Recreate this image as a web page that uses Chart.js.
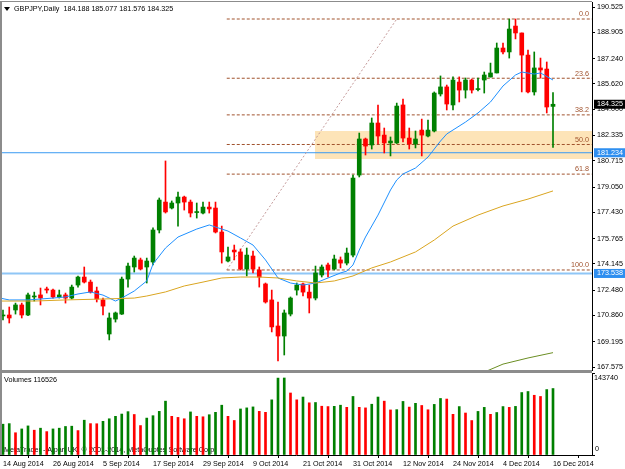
<!DOCTYPE html>
<html>
<head>
<meta charset="utf-8">
<script src="https://cdn.jsdelivr.net/npm/chart.js@4.4.0/dist/chart.umd.min.js"></script>
<style>
  html, body { margin: 0; padding: 0; background: #fff; }
  #wrap { position: relative; width: 625px; height: 469px; overflow: hidden; }
  #priceChart { position: absolute; left: 0; top: 0; }
  #volumeChart { position: absolute; left: 0; top: 372px; }
</style>
</head>
<body>
<div id="wrap">
  <canvas id="priceChart" width="625" height="372"></canvas>
  <canvas id="volumeChart" width="625" height="97"></canvas>
</div>
<script>
// Global font settings
const FONT_FAMILY = '"Liberation Sans", Arial, sans-serif';
const FONT_SIZE = 7.2;
Chart.defaults.font.family = FONT_FAMILY;
Chart.defaults.font.size = FONT_SIZE;
Chart.defaults.color = '#000';

const COLORS = {
    BULL: '#008000',
    BEAR: '#ff0000',
    MA_FAST: '#1e90ff',
    MA_MID: '#daa520',
    MA_SLOW: '#6b8e23',
    FIBO: '#a0522d',
    TREND: '#c49a9a',
    ZONE: '#fde4b8',
    TAG: '#2f8ff0',
    FRAME: '#8c8c8c'
};

// Daily GBPJPY candles, 14 Aug 2014 .. 16 Dec 2014
const SYMBOL = 'GBPJPY,Daily';
const opens = [
    170.83, 170.89, 171.21, 171.53, 170.89, 172.04, 172.17, 172.55, 172.48, 172.04,
    172.17, 171.97, 172.80, 173.31, 172.99, 172.42, 171.85, 169.68, 170.63, 170.95,
    173.18, 173.95, 174.40, 173.95, 174.27, 176.31, 178.09, 177.71, 178.03, 178.41,
    178.09, 177.42, 177.39, 177.77, 177.71, 176.18, 174.33, 175.03, 174.91, 173.82,
    174.65, 173.76, 172.87, 171.85, 170.19, 169.55, 170.95, 172.48, 172.87, 172.35,
    171.97, 173.44, 174.08, 173.82, 174.40, 174.20, 174.71, 179.81, 182.11, 181.73,
    183.13, 182.36, 181.86, 181.86, 184.28, 182.17, 181.79, 182.68, 182.30, 182.62,
    184.98, 185.43, 184.28, 185.74, 185.23, 185.87, 185.26, 185.87, 186.06, 186.32,
    187.91, 187.66, 189.31, 188.87, 187.46, 185.11, 186.64, 186.57, 184.188
];
const highs = [
    171.21, 171.40, 171.65, 171.65, 172.29, 172.35, 172.61, 172.67, 172.55, 172.48,
    172.29, 172.80, 173.37, 173.95, 173.12, 172.67, 171.97, 171.02, 171.08, 173.31,
    174.20, 174.65, 174.52, 174.52, 176.44, 178.35, 180.71, 178.16, 178.73, 178.47,
    178.22, 178.03, 178.09, 178.09, 178.09, 176.56, 175.22, 175.35, 175.10, 175.16,
    174.97, 173.95, 172.93, 172.48, 171.72, 171.21, 172.04, 172.93, 172.93, 172.80,
    174.01, 174.08, 174.20, 174.71, 174.59, 175.16, 179.81, 182.49, 182.17, 183.45,
    184.28, 182.81, 182.24, 184.40, 184.66, 182.81, 182.62, 183.38, 183.32, 185.11,
    186.13, 185.55, 186.07, 186.07, 186.00, 185.93, 186.00, 186.38, 186.95, 188.23,
    188.23, 189.76, 189.76, 188.87, 187.78, 187.66, 187.27, 187.02, 185.077
];
const lows = [
    170.57, 170.38, 170.95, 170.70, 170.85, 171.78, 171.53, 172.29, 171.97, 171.97,
    171.65, 171.91, 172.67, 172.93, 172.29, 171.72, 170.89, 169.30, 170.44, 170.92,
    172.67, 173.63, 173.76, 172.93, 174.08, 176.12, 177.39, 177.65, 176.56, 177.58,
    177.14, 177.07, 177.33, 177.39, 176.12, 174.20, 174.27, 174.40, 173.76, 173.38,
    173.57, 172.67, 171.65, 169.81, 167.96, 168.34, 170.83, 172.16, 172.10, 171.02,
    171.85, 173.31, 173.31, 173.76, 173.89, 174.08, 174.59, 179.69, 181.09, 181.47,
    181.79, 181.22, 181.03, 181.82, 181.92, 181.47, 181.54, 181.03, 182.24, 182.56,
    184.85, 183.96, 183.96, 184.47, 184.72, 185.04, 185.17, 185.04, 186.06, 186.32,
    187.53, 187.27, 188.49, 185.11, 185.04, 184.91, 185.99, 183.77, 181.576
];
const closes = [
    170.89, 170.70, 171.53, 170.89, 172.17, 172.10, 171.97, 172.48, 172.04, 172.17,
    171.97, 172.67, 173.31, 172.99, 172.35, 171.91, 171.46, 170.70, 171.02, 173.18,
    174.01, 174.52, 173.82, 174.33, 176.31, 178.22, 177.46, 178.03, 178.41, 178.09,
    177.39, 177.46, 177.77, 177.65, 176.18, 174.91, 174.59, 174.91, 173.82, 174.71,
    173.82, 173.31, 171.72, 170.13, 169.55, 171.02, 171.97, 172.80, 172.35, 171.97,
    173.57, 173.95, 173.76, 174.46, 174.20, 174.84, 179.62, 182.11, 181.66, 183.13,
    182.30, 181.86, 181.98, 184.21, 182.17, 181.79, 182.11, 182.36, 182.68, 185.04,
    185.43, 184.34, 185.87, 185.23, 185.87, 185.23, 185.30, 186.19, 186.32, 187.91,
    187.66, 189.12, 188.87, 187.46, 185.11, 186.64, 186.51, 184.15, 184.325
];
const volumes = [
    54000, 55000, 39000, 45700, 51000, 43500, 47000, 41000, 45700, 47000,
    50000, 50500, 42800, 61000, 55000, 54800, 59000, 63500, 67800, 71800,
    76000, 71000, 51600, 64700, 68900, 76500, 94400, 67800, 65900, 63500,
    75500, 67800, 67000, 70600, 74800, 87300, 67800, 60500, 80700, 82600,
    84300, 76500, 74800, 96700, 134800, 135000, 108700, 96700, 101600, 91500,
    92000, 85500, 84900, 85300, 87300, 83600, 102600, 83600, 82600, 89000,
    101600, 94400, 79000, 79500, 93900, 84000, 90600, 86800, 79300, 88700,
    99100, 98100, 71300, 84900, 73600, 60400, 76400, 83500, 71300, 74500,
    84900, 83500, 85200, 109500, 111300, 104700, 102600, 114700, 116526
];

// Time axis: bar index of each date label
const tickBars = [0, 8, 16, 24, 32, 40, 48, 56, 64, 72, 80, 88];
const tickLabels = ['14 Aug 2014', '26 Aug 2014', '5 Sep 2014', '17 Sep 2014', '29 Sep 2014', '9 Oct 2014',
    '21 Oct 2014', '31 Oct 2014', '12 Nov 2014', '24 Nov 2014', '4 Dec 2014', '16 Dec 2014'];

// Price axis
const priceTicks = [167.575, 169.195, 170.860, 172.480, 174.145, 175.765, 177.430, 179.050,
    180.715, 182.335, 184.000, 185.620, 187.240, 188.905, 190.525];
const PRICE_MIN = 167.384;
const PRICE_MAX = 190.844;
const VOLUME_MAX = 143740;
const BAR_MIN = -0.48;   // visible bar range
const BAR_MAX = 94.24;

// Moving averages: [bar, price]
const maFast = [[-0.5, 171.97], [1, 171.85], [4, 171.85], [8, 171.97], [10, 172.04], [12, 172.23], [14, 172.36],
    [16, 172.16], [18, 171.78], [19, 171.97], [21, 172.42], [23, 173.06], [24, 174.14], [26, 175.16], [28, 175.86],
    [31, 176.37], [33, 176.63], [34, 176.50], [36, 176.24], [38, 175.80], [40, 175.35], [42, 174.40], [44, 173.25],
    [46, 172.93], [48, 172.80], [50, 172.93], [52, 173.25], [54, 173.57], [55, 173.69], [56, 174.08], [57, 175.03],
    [58, 175.86], [60, 177.26], [62, 178.86], [63, 179.50], [64, 179.88], [66, 180.26], [68, 180.96], [70, 181.98],
    [71, 182.43], [74, 183.19], [76, 183.77], [78, 184.47], [80, 185.49], [82, 186.19], [83, 186.38], [85, 186.25],
    [86, 186.32], [88, 185.87]];
const maMid = [[-0.5, 171.78], [5, 171.78], [10, 171.85], [16, 171.91], [21, 171.97], [23, 172.10], [26, 172.36],
    [29, 172.74], [32, 172.99], [35, 173.25], [38, 173.31], [41, 173.31], [44, 173.25], [47, 173.06], [50, 172.93],
    [53, 173.06], [56, 173.38], [59, 173.89], [62, 174.27], [66, 174.91], [69, 175.67], [72, 176.56], [76, 177.26],
    [80, 177.84], [84, 178.28], [88, 178.80]];
const maSlow = [[77, 167.25], [80, 167.76], [84, 168.15], [88, 168.49]];

// Fibonacci retracement, drawn from the low anchor to the high anchor
const fiboLevels = [0.0, 23.6, 38.2, 50.0, 61.8, 100.0];
const fiboLow = 173.76;
const fiboHigh = 189.76;
const fiboStartBar = 35.8;
const fiboEndBar = 63.0;

// Support zone rectangle and horizontal lines
const zoneStartBar = 49.9;
const zoneTop = 182.62;
const zoneBottom = 180.83;
const hLines = [181.234, 173.538];
const hLineColors = ['#3a9af2', '#8fc6f6'];
const hLineWidths = [1, 2];

// Helpers
const fiboPrice = lvl => fiboHigh - (fiboHigh - fiboLow) * lvl / 100;
const candleColors = closes.map((c, i) => c >= opens[i] ? COLORS.BULL : COLORS.BEAR);
const volumeColors = volumes.map((v, i) => i > 0 && v < volumes[i - 1] ? COLORS.BEAR : COLORS.BULL);
const last = closes.length - 1;
const CANVAS_FONT = FONT_SIZE + 'px ' + FONT_FAMILY;

function lineSet(points, color, extra) {
    return Object.assign({
        type: 'line',
        data: points.map(([x, y]) => ({ x, y })),
        borderColor: color,
        borderWidth: 1,
        pointRadius: 0,
        tension: 0,
        fill: false
    }, extra);
}

function drawFrame(ctx, a) {
    ctx.fillStyle = COLORS.FRAME;
    ctx.fillRect(a.left, a.top - 1, a.right - a.left, 1);
    ctx.fillRect(a.left, a.top - 1, 2, a.bottom - a.top + 1);
}

// Text and tags on the price panel
const priceOverlay = {
    id: 'priceOverlay',
    afterDraw(chart) {
        const { ctx, chartArea: a, scales: { y } } = chart;
        ctx.save();
        drawFrame(ctx, a);
        ctx.fillStyle = COLORS.FRAME;
        ctx.fillRect(a.left, a.bottom, a.right - a.left, 2);

        ctx.font = CANVAS_FONT;
        // title
        ctx.fillStyle = '#000';
        ctx.beginPath();
        ctx.moveTo(4, 7); ctx.lineTo(10, 7); ctx.lineTo(7, 11); ctx.closePath();
        ctx.fill();
        ctx.textBaseline = 'middle';
        ctx.textAlign = 'left';
        const ohlc = [opens[last], highs[last], lows[last], closes[last]].map(v => v.toFixed(3)).join(' ');
        ctx.fillText(SYMBOL + '  ' + ohlc, 14, 9);

        // fibo level labels
        ctx.fillStyle = COLORS.FIBO;
        ctx.textAlign = 'right';
        ctx.textBaseline = 'bottom';
        fiboLevels.forEach(lvl => {
            ctx.fillText(lvl.toFixed(1), a.right - 3, y.getPixelForValue(fiboPrice(lvl)) - 1);
        });

        // price tags on the axis
        const tags = [
            { value: closes[last], bg: '#000' },
            { value: hLines[0], bg: COLORS.TAG },
            { value: hLines[1], bg: COLORS.TAG }
        ];
        ctx.textAlign = 'left';
        ctx.textBaseline = 'middle';
        tags.forEach(t => {
            const py = y.getPixelForValue(t.value);
            ctx.fillStyle = t.bg;
            ctx.fillRect(a.right + 2, py - 4.5, chart.width - a.right - 2, 9);
            ctx.fillStyle = '#fff';
            ctx.fillText(t.value.toFixed(3), a.right + 5, py);
        });
        ctx.restore();
    }
};

// Text on the volume panel (copyright sits behind the bars)
const volumeOverlay = {
    id: 'volumeOverlay',
    beforeDatasetsDraw(chart) {
        const { ctx, chartArea: a } = chart;
        ctx.save();
        ctx.font = CANVAS_FONT;
        ctx.fillStyle = '#000';
        ctx.textAlign = 'left';
        ctx.textBaseline = 'bottom';
        ctx.fillText('MetaTrader - Alpari UK, \u00a9 2001-2014, MetaQuotes Software Corp.', a.left + 4, a.bottom - 1);
        ctx.restore();
    },
    afterDraw(chart) {
        const { ctx, chartArea: a } = chart;
        ctx.save();
        drawFrame(ctx, a);
        ctx.font = CANVAS_FONT;
        ctx.fillStyle = '#000';
        ctx.textAlign = 'left';
        ctx.textBaseline = 'top';
        ctx.fillText('Volumes ' + volumes[last], a.left + 4, a.top + 3);
        ctx.fillText(String(VOLUME_MAX), a.right + 2, a.top + 1);
        ctx.textBaseline = 'bottom';
        ctx.fillText('0', a.right + 3, a.bottom - 2);
        ctx.restore();
    }
};

const barAxis = {
    type: 'linear',
    min: BAR_MIN,
    max: BAR_MAX,
    offset: false
};

// Price panel
new Chart(document.getElementById('priceChart'), {
    type: 'bar',
    data: {
        datasets: [
            lineSet([[zoneStartBar, zoneTop], [BAR_MAX, zoneTop]], 'transparent',
                { borderWidth: 0, backgroundColor: COLORS.ZONE, fill: { value: zoneBottom }, order: 10 }),
            ...hLines.map((p, k) => lineSet([[BAR_MIN, p], [BAR_MAX, p]], hLineColors[k],
                { borderWidth: hLineWidths[k], order: 9 })),
            ...fiboLevels.map(lvl => lineSet([[fiboStartBar, fiboPrice(lvl)], [BAR_MAX, fiboPrice(lvl)]], COLORS.FIBO,
                { borderDash: [3, 2], order: 8 })),
            lineSet([[fiboStartBar, fiboLow], [fiboEndBar, fiboHigh]], COLORS.TREND, { borderDash: [2, 2], order: 8 }),
            {
                type: 'bar',
                data: lows.map((l, i) => ({ x: i, y: [l, highs[i]] })),
                backgroundColor: candleColors,
                barThickness: 1,
                grouped: false,
                order: 2
            },
            {
                type: 'bar',
                data: opens.map((o, i) => ({ x: i, y: [o, closes[i]] })),
                backgroundColor: candleColors,
                barThickness: 4,
                minBarLength: 1,
                grouped: false,
                order: 1
            },
            lineSet(maSlow, COLORS.MA_SLOW, { order: 0 }),
            lineSet(maMid, COLORS.MA_MID, { order: 0 }),
            lineSet(maFast, COLORS.MA_FAST, { order: 0 })
        ]
    },
    options: {
        responsive: false,
        animation: false,
        events: [],
        layout: { padding: { top: 2, bottom: 2, left: 0, right: 0 } },
        plugins: { legend: { display: false }, tooltip: { enabled: false } },
        scales: {
            x: Object.assign({ display: false }, barAxis),
            y: {
                position: 'right',
                min: PRICE_MIN,
                max: PRICE_MAX,
                afterBuildTicks: s => { s.ticks = priceTicks.map(v => ({ value: v })); },
                afterFit: s => { s.width = 33; s.paddingTop = 0; s.paddingBottom = 0; },
                ticks: { autoSkip: false, padding: 2, callback: v => v.toFixed(3) },
                grid: { drawOnChartArea: false, tickLength: 3, color: '#000' },
                border: { color: '#000' }
            }
        }
    },
    plugins: [priceOverlay]
});

// Volume panel
new Chart(document.getElementById('volumeChart'), {
    type: 'bar',
    data: {
        datasets: [{
            data: volumes.map((v, i) => ({ x: i, y: v })),
            backgroundColor: volumeColors,
            barThickness: 2,
            grouped: false
        }]
    },
    options: {
        responsive: false,
        animation: false,
        events: [],
        layout: { padding: { top: 1, bottom: 0, left: 0, right: 0 } },
        plugins: { legend: { display: false }, tooltip: { enabled: false } },
        scales: {
            x: Object.assign({
                position: 'bottom',
                afterBuildTicks: s => { s.ticks = tickBars.map(v => ({ value: v })); },
                afterFit: s => { s.height = 14; s.paddingLeft = 0; s.paddingRight = 0; },
                ticks: { align: 'start', maxRotation: 0, autoSkip: false, padding: 2,
                    callback: v => tickLabels[tickBars.indexOf(v)] },
                grid: { drawOnChartArea: false, tickLength: 3, color: '#000' },
                border: { color: '#000' }
            }, barAxis),
            y: {
                position: 'right',
                min: 0,
                max: VOLUME_MAX,
                afterBuildTicks: s => { s.ticks = [{ value: 0 }, { value: VOLUME_MAX }]; },
                afterFit: s => { s.width = 33; s.paddingTop = 0; s.paddingBottom = 0; },
                ticks: { display: false },
                grid: { drawOnChartArea: false, tickLength: 3, color: '#000' },
                border: { color: '#000' }
            }
        }
    },
    plugins: [volumeOverlay]
});
</script>
</body>
</html>
